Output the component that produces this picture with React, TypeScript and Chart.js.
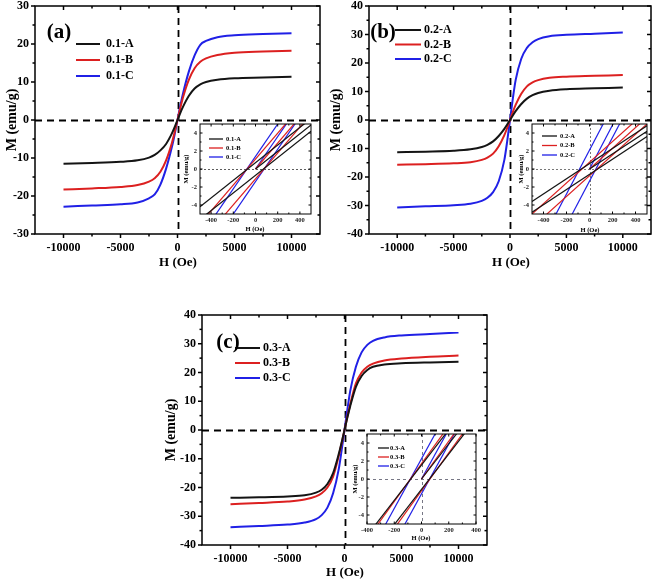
import React, { useEffect, useRef } from 'react';
import { Chart, registerables } from 'chart.js';

Chart.register(...registerables);

const SERIF = "'Times New Roman', 'Liberation Serif', serif";
const COLORS = ['#141414', '#dc2020', '#2020e6'];

// ---------- main curves: field H (Oe) ----------
const FIELD = [-10000, -7500, -5000, -3500, -2500, -2000, -1500, -1000, -500, -250, 0, 250, 500, 1000, 1500, 2000, 2500, 3500, 5000, 7500, 10000];

// panel (a)
const M_01A = [-11.5, -11.3, -11.0, -10.6, -9.9, -9.2, -8.0, -6.3, -3.6, -1.9, 0, 1.9, 3.6, 6.4, 8.3, 9.4, 10.0, 10.6, 11.0, 11.2, 11.4];
const M_01B = [-18.3, -18.0, -17.6, -17.1, -16.2, -15.3, -13.6, -10.6, -6.1, -3.2, 0, 3.2, 6.1, 10.6, 13.6, 15.3, 16.2, 17.1, 17.7, 18.0, 18.2];
const M_01C = [-22.8, -22.5, -22.2, -21.7, -20.6, -19.6, -17.0, -12.8, -7.2, -3.8, 0, 3.8, 7.2, 12.8, 17.0, 19.8, 20.8, 21.8, 22.3, 22.6, 22.8];

// panel (b)
const M_02A = [-11.3, -11.1, -10.8, -10.3, -9.5, -8.7, -7.5, -5.6, -3.1, -1.6, 0, 1.6, 3.1, 5.6, 7.5, 8.7, 9.5, 10.3, 10.8, 11.1, 11.4];
const M_02B = [-15.7, -15.5, -15.2, -14.8, -14.0, -13.2, -11.8, -9.2, -5.3, -2.8, 0, 2.8, 5.3, 9.2, 11.8, 13.2, 14.0, 14.8, 15.2, 15.5, 15.8];
const M_02C = [-30.7, -30.3, -29.9, -29.4, -28.4, -27.3, -25.3, -21.5, -14.0, -7.5, 0, 7.5, 14.0, 21.5, 25.3, 27.3, 28.4, 29.4, 29.9, 30.3, 30.7];

// panel (c)
const M_03A = [-23.6, -23.4, -23.1, -22.7, -21.8, -20.8, -18.8, -15.0, -8.3, -4.3, 0, 4.3, 8.3, 15.0, 18.8, 20.9, 22.0, 22.8, 23.2, 23.5, 23.7];
const M_03B = [-25.8, -25.4, -24.9, -24.2, -23.1, -22.0, -20.0, -16.2, -8.9, -4.6, 0, 4.6, 8.9, 16.2, 20.0, 22.0, 23.1, 24.2, 24.9, 25.5, 25.9];
const M_03C = [-33.8, -33.4, -32.9, -32.2, -31.0, -29.6, -27.0, -22.0, -13.5, -7.0, 0, 7.0, 13.5, 22.0, 27.0, 29.6, 31.0, 32.2, 32.9, 33.4, 33.9];

// ---------- insets: low-field loop branches ----------
const IN_FIELD_AB = [-500, 500];
const IN_INIT_FIELD_AB = [0, 500];
const IN_FIELD_C = [-400, 400];
const IN_INIT_FIELD_C = [0, 400];

// inset (a)
const I01A_DESC = [-4.2, 5.6], I01A_ASC = [-5.6, 4.2], I01A_INIT = [0, 4.9];
const I01B_DESC = [-6.1, 8.3], I01B_ASC = [-8.3, 6.1], I01B_INIT = [0, 7.2];
const I01C_DESC = [-7.6, 10.4], I01C_ASC = [-10.4, 7.6], I01C_INIT = [0, 9.0];
// inset (b)
const I02A_DESC = [-3.6, 4.8], I02A_ASC = [-4.8, 3.6], I02A_INIT = [0, 4.2];
const I02B_DESC = [-5.0, 6.5], I02B_ASC = [-6.5, 5.0], I02B_INIT = [0, 5.75];
const I02C_DESC = [-10.1, 14.3], I02C_ASC = [-13.5, 10.8], I02C_INIT = [0, 12.2];
// inset (c)
const I03A_DESC = [-6.3, 9.4], I03A_ASC = [-9.0, 6.7], I03A_INIT = [0, 7.8];
const I03B_DESC = [-6.7, 10.1], I03B_ASC = [-9.7, 7.1], I03B_INIT = [0, 8.4];
const I03C_DESC = [-8.8, 13.3], I03C_ASC = [-12.7, 9.4], I03C_INIT = [0, 11.0];

// ---------- ticks ----------
const MAIN_X_TICKS = [-10000, -5000, 0, 5000, 10000];
const MAIN_X_MINOR = [-7500, -2500, 2500, 7500];
const Y_TICKS_30 = [-30, -20, -10, 0, 10, 20, 30];
const Y_MINOR_30 = [-25, -15, -5, 5, 15, 25];
const Y_TICKS_40 = [-40, -30, -20, -10, 0, 10, 20, 30, 40];
const Y_MINOR_40 = [-35, -25, -15, -5, 5, 15, 25, 35];
const IN_X_TICKS = [-400, -200, 0, 200, 400];
const IN_X_MINOR_AB = [-300, -100, 100, 300];
const IN_Y_TICKS = [-4, -2, 0, 2, 4];
const IN_Y_MINOR = [-3, -1, 1, 3];

type Box = { x: number; y: number; w: number; h: number };
type Area = { l: number; t: number; r: number; b: number };

function makeFramePlugin(spec: any) {
  return {
    id: 'frame',
    beforeDatasetsDraw(chart: any) {
      const { ctx, chartArea: a, scales } = chart;
      const z = spec.zero;
      ctx.save();
      ctx.strokeStyle = z.color;
      ctx.lineWidth = z.width;
      ctx.setLineDash(z.dash);
      if (z.h) {
        const y = Math.round(scales.y.getPixelForValue(0)) + 0.5;
        ctx.beginPath(); ctx.moveTo(a.left, y); ctx.lineTo(a.right, y); ctx.stroke();
      }
      if (z.v) {
        const x = Math.round(scales.x.getPixelForValue(0)) + 0.5;
        ctx.beginPath(); ctx.moveTo(x, a.top); ctx.lineTo(x, a.bottom); ctx.stroke();
      }
      ctx.restore();
    },
    afterDatasetsDraw(chart: any) {
      const { ctx, chartArea: a, scales } = chart;
      const bx = spec.box.x, by = spec.box.y;
      ctx.save();
      ctx.strokeStyle = '#000';
      ctx.lineWidth = spec.lw;
      ctx.setLineDash([]);
      ctx.strokeRect(a.left, a.top, a.right - a.left, a.bottom - a.top);
      const out = spec.outward ? 1 : -1;
      const drawX = (vals: number[], len: number) => {
        vals.forEach((v) => {
          const px = scales.x.getPixelForValue(v);
          ctx.beginPath(); ctx.moveTo(px, a.bottom); ctx.lineTo(px, a.bottom + out * len); ctx.stroke();
          ctx.beginPath(); ctx.moveTo(px, a.top); ctx.lineTo(px, a.top + len); ctx.stroke();
        });
      };
      const drawY = (vals: number[], len: number) => {
        vals.forEach((v) => {
          const py = scales.y.getPixelForValue(v);
          ctx.beginPath(); ctx.moveTo(a.left, py); ctx.lineTo(a.left - out * len, py); ctx.stroke();
          ctx.beginPath(); ctx.moveTo(a.right, py); ctx.lineTo(a.right - len, py); ctx.stroke();
        });
      };
      drawX(spec.xMajor, spec.major);
      drawX(spec.xMinor, spec.minor);
      drawY(spec.yMajor, spec.major);
      drawY(spec.yMinor, spec.minor);

      // legend
      const lg = spec.legend;
      lg.labels.forEach((lab: string, i: number) => {
        const y = lg.rows[i] - by;
        const x0 = lg.x - bx;
        ctx.strokeStyle = COLORS[i];
        ctx.lineWidth = lg.lw;
        ctx.beginPath(); ctx.moveTo(x0, y); ctx.lineTo(x0 + lg.len, y); ctx.stroke();
        ctx.fillStyle = '#000';
        ctx.font = `bold ${lg.size}px ${SERIF}`;
        ctx.textAlign = 'left';
        ctx.textBaseline = 'middle';
        ctx.fillText(lab, x0 + lg.len + lg.gap, y);
      });

      // texts
      spec.texts.forEach((t: any) => {
        ctx.save();
        ctx.fillStyle = '#000';
        ctx.font = `bold ${t.size}px ${SERIF}`;
        ctx.textAlign = 'center';
        ctx.textBaseline = 'middle';
        ctx.translate(t.x - bx, t.y - by);
        if (t.rot) ctx.rotate(-Math.PI / 2);
        ctx.fillText(t.t, 0, 0);
        ctx.restore();
      });
      ctx.restore();
    },
  };
}

function buildConfig(p: any) {
  const box: Box = p.box;
  const area: Area = p.area;
  const tickFont = { family: SERIF, size: p.tickSize, weight: 'bold' };
  return {
    type: 'line',
    data: { datasets: p.datasets },
    options: {
      animation: false,
      responsive: false,
      events: [],
      layout: { padding: { top: area.t - box.y, right: box.x + box.w - area.r, left: 0, bottom: 0 } },
      plugins: { legend: { display: false }, tooltip: { enabled: false } },
      scales: {
        x: {
          type: 'linear',
          min: p.xMin,
          max: p.xMax,
          afterBuildTicks: (s: any) => { s.ticks = p.xTicks.map((v: number) => ({ value: v })); },
          afterFit: (s: any) => { s.height = box.y + box.h - area.b; },
          grid: { display: false, drawTicks: false },
          border: { display: false },
          ticks: { font: tickFont, color: p.tickColor, padding: p.xPad, maxRotation: 0, autoSkip: false, callback: (v: any) => String(v) },
        },
        y: {
          type: 'linear',
          min: p.yMin,
          max: p.yMax,
          afterBuildTicks: (s: any) => { s.ticks = p.yTicks.map((v: number) => ({ value: v })); },
          afterFit: (s: any) => { s.width = area.l - box.x; },
          grid: { display: false, drawTicks: false },
          border: { display: false },
          ticks: { font: tickFont, color: p.tickColor, padding: p.yPad, autoSkip: false, callback: (v: any) => String(v) },
        },
      },
    },
    plugins: [makeFramePlugin(p.frame)],
  };
}

function curve(values: number[], i: number) {
  return {
    data: FIELD.map((h, k) => ({ x: h, y: values[k] })),
    borderColor: COLORS[i],
    borderWidth: 2,
    pointRadius: 0,
    cubicInterpolationMode: 'monotone',
    fill: false,
    clip: 0,
  };
}

function seg(field: number[], values: number[], i: number) {
  return {
    data: field.map((h, k) => ({ x: h, y: values[k] })),
    borderColor: COLORS[i],
    borderWidth: 1.2,
    pointRadius: 0,
    fill: false,
    clip: 0,
  };
}

function mainPanel(opts: any) {
  const { box, area, labels, series, yMax, yTicks, yMinor, tag, tagPos, legend, yTitle, xTitle } = opts;
  return {
    box, area,
    datasets: series.map((s: number[], i: number) => curve(s, i)),
    xMin: -12500, xMax: 12500, yMin: -yMax, yMax,
    xTicks: MAIN_X_TICKS, yTicks,
    tickSize: 12, tickColor: '#000', xPad: 7, yPad: 6,
    frame: {
      box, lw: 1.5, outward: true, major: 4, minor: 2.5,
      xMajor: MAIN_X_TICKS, xMinor: MAIN_X_MINOR, yMajor: yTicks, yMinor,
      zero: { h: true, v: true, color: '#000', width: 1.8, dash: [7, 5] },
      legend: { ...legend, labels, len: legend.len, lw: 2, size: 12 },
      texts: [
        { t: tag, x: tagPos[0], y: tagPos[1], size: 21 },
        { t: 'M (emu/g)', x: yTitle[0], y: yTitle[1], size: 14, rot: true },
        { t: 'H (Oe)', x: xTitle[0], y: xTitle[1], size: 13 },
      ],
    },
  };
}

function insetPanel(opts: any) {
  const { box, area, labels, segs, xMin, xMax, xMinor, zero, legend, yTitle, xTitle } = opts;
  return {
    box, area,
    datasets: segs,
    xMin, xMax, yMin: -5, yMax: 5,
    xTicks: IN_X_TICKS, yTicks: IN_Y_TICKS,
    tickSize: 6.5, tickColor: '#222', xPad: 2, yPad: 3,
    frame: {
      box, lw: 1, outward: false, major: 2.5, minor: 1.5,
      xMajor: IN_X_TICKS, xMinor, yMajor: IN_Y_TICKS, yMinor: IN_Y_MINOR,
      zero,
      legend: { ...legend, labels, lw: 1.3, size: 6.5 },
      texts: [
        { t: 'M (emu/g)', x: yTitle[0], y: yTitle[1], size: 6.5, rot: true },
        { t: 'H (Oe)', x: xTitle[0], y: xTitle[1], size: 6.5 },
      ],
    },
  };
}

const PANELS = [
  mainPanel({
    box: { x: 0, y: -10, w: 328, h: 285 }, area: { l: 35, t: 6, r: 320, b: 234 },
    labels: ['0.1-A', '0.1-B', '0.1-C'], series: [M_01A, M_01B, M_01C],
    yMax: 30, yTicks: Y_TICKS_30, yMinor: Y_MINOR_30,
    tag: '(a)', tagPos: [59, 33],
    legend: { x: 76, len: 24, gap: 6, rows: [44, 60, 76] },
    yTitle: [12, 120], xTitle: [178, 263],
  }),
  mainPanel({
    box: { x: 328, y: -10, w: 328, h: 285 }, area: { l: 369, t: 6, r: 651, b: 234 },
    labels: ['0.2-A', '0.2-B', '0.2-C'], series: [M_02A, M_02B, M_02C],
    yMax: 40, yTicks: Y_TICKS_40, yMinor: Y_MINOR_40,
    tag: '(b)', tagPos: [383, 33],
    legend: { x: 395, len: 26, gap: 3, rows: [30, 44.5, 59] },
    yTitle: [336, 120], xTitle: [511, 263],
  }),
  mainPanel({
    box: { x: 160, y: 290, w: 340, h: 291 }, area: { l: 202, t: 315, r: 487, b: 545 },
    labels: ['0.3-A', '0.3-B', '0.3-C'], series: [M_03A, M_03B, M_03C],
    yMax: 40, yTicks: Y_TICKS_40, yMinor: Y_MINOR_40,
    tag: '(c)', tagPos: [228, 343],
    legend: { x: 235, len: 25, gap: 3, rows: [348, 363, 378] },
    yTitle: [171, 430], xTitle: [345, 573],
  }),
  insetPanel({
    box: { x: 176, y: 114, w: 142, h: 124 }, area: { l: 200, t: 124, r: 311, b: 214 },
    labels: ['0.1-A', '0.1-B', '0.1-C'],
    segs: [
      seg(IN_FIELD_AB, I01A_DESC, 0), seg(IN_FIELD_AB, I01A_ASC, 0), seg(IN_INIT_FIELD_AB, I01A_INIT, 0),
      seg(IN_FIELD_AB, I01B_DESC, 1), seg(IN_FIELD_AB, I01B_ASC, 1), seg(IN_INIT_FIELD_AB, I01B_INIT, 1),
      seg(IN_FIELD_AB, I01C_DESC, 2), seg(IN_FIELD_AB, I01C_ASC, 2), seg(IN_INIT_FIELD_AB, I01C_INIT, 2),
    ],
    xMin: -500, xMax: 500, xMinor: IN_X_MINOR_AB,
    zero: { h: true, v: false, color: '#333', width: 0.8, dash: [2, 2] },
    legend: { x: 209, len: 14, gap: 3, rows: [139, 148, 157] },
    yTitle: [186, 169], xTitle: [255, 229.5],
  }),
  insetPanel({
    box: { x: 508, y: 114, w: 144, h: 124 }, area: { l: 532, t: 124, r: 647, b: 214 },
    labels: ['0.2-A', '0.2-B', '0.2-C'],
    segs: [
      seg(IN_FIELD_AB, I02A_DESC, 0), seg(IN_FIELD_AB, I02A_ASC, 0), seg(IN_INIT_FIELD_AB, I02A_INIT, 0),
      seg(IN_FIELD_AB, I02B_DESC, 1), seg(IN_FIELD_AB, I02B_ASC, 1), seg(IN_INIT_FIELD_AB, I02B_INIT, 1),
      seg(IN_FIELD_AB, I02C_DESC, 2), seg(IN_FIELD_AB, I02C_ASC, 2), seg(IN_INIT_FIELD_AB, I02C_INIT, 2),
    ],
    xMin: -500, xMax: 500, xMinor: IN_X_MINOR_AB,
    zero: { h: true, v: true, color: '#555', width: 0.8, dash: [2, 2] },
    legend: { x: 542, len: 15, gap: 3, rows: [136, 145.5, 155] },
    yTitle: [521, 169], xTitle: [590, 230],
  }),
  insetPanel({
    box: { x: 345, y: 424, w: 142, h: 124 }, area: { l: 367, t: 434, r: 476, b: 524 },
    labels: ['0.3-A', '0.3-B', '0.3-C'],
    segs: [
      seg(IN_FIELD_C, I03A_DESC, 0), seg(IN_FIELD_C, I03A_ASC, 0), seg(IN_INIT_FIELD_C, I03A_INIT, 0),
      seg(IN_FIELD_C, I03B_DESC, 1), seg(IN_FIELD_C, I03B_ASC, 1), seg(IN_INIT_FIELD_C, I03B_INIT, 1),
      seg(IN_FIELD_C, I03C_DESC, 2), seg(IN_FIELD_C, I03C_ASC, 2), seg(IN_INIT_FIELD_C, I03C_INIT, 2),
    ],
    xMin: -400, xMax: 400, xMinor: [-300, -100, 100, 300],
    zero: { h: true, v: true, color: '#556', width: 0.8, dash: [3, 3] },
    legend: { x: 378, len: 11, gap: 1, rows: [448, 457, 466] },
    yTitle: [355, 479], xTitle: [421, 538],
  }),
];

function ChartCanvas({ panel }: { panel: any }) {
  const ref = useRef<HTMLCanvasElement>(null);
  useEffect(() => {
    const chart = new Chart(ref.current as HTMLCanvasElement, buildConfig(panel) as any);
    return () => chart.destroy();
  }, []);
  const b: Box = panel.box;
  return (
    <canvas
      ref={ref}
      width={b.w}
      height={b.h}
      style={{ position: 'absolute', left: b.x, top: b.y, width: b.w, height: b.h }}
    />
  );
}

export default function App() {
  return (
    <div style={{ position: 'absolute', left: 0, top: 0, width: 656, height: 581, background: '#fff', overflow: 'hidden' }}>
      {PANELS.map((p, i) => (
        <ChartCanvas key={i} panel={p} />
      ))}
    </div>
  );
}
